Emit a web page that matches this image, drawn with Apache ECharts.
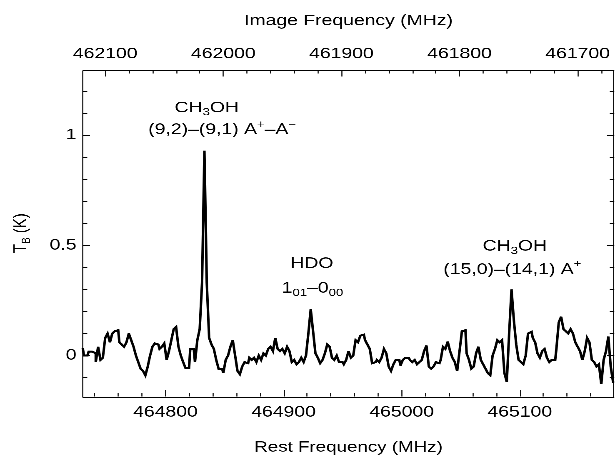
<!DOCTYPE html>
<html>
<head>
<meta charset="utf-8">
<script src="https://cdn.jsdelivr.net/npm/echarts@6/dist/echarts.min.js"></script>
<style>
  html, body { margin: 0; padding: 0; background: #fff; overflow: hidden; }
  #wrap { width: 615px; height: 460px; overflow: hidden; }
  /* the plot is laid out narrower and widened, giving the broad lettering */
  #chart { width: 492px; height: 460px; transform: scaleX(1.25); transform-origin: 0 0; }
</style>
</head>
<body>
<div id="wrap"><div id="chart"></div></div>
<script>
// Spectrum channels: first channel centre and spacing (MHz, rest frame)
const channelStart = 464730;
const channelWidth = 2;

// Brightness temperature per channel (K)
const tb = [
  0.033, 0.0, 0.0, 0.018, 0.018, 0.01, -0.03, 0.04, -0.02, -0.01,
  0.08, 0.1, 0.06, 0.1, 0.11, 0.115, 0.06, 0.05, 0.04, 0.06,
  0.1, 0.07, 0.04, 0.0, -0.03, -0.06, -0.07, -0.09, -0.05, 0.0,
  0.04, 0.055, 0.05, 0.03, 0.04, 0.055, -0.02, 0.02, 0.07, 0.12,
  0.13, 0.04, 0.0, -0.03, -0.057, -0.057, 0.03, 0.03, -0.03, 0.07,
  0.12, 0.33, 0.93, 0.33, 0.08, 0.05, 0.03, -0.02, -0.06, -0.06,
  -0.08, -0.02, 0.0, 0.04, 0.07, 0.0, -0.07, -0.085, -0.05, -0.03,
  -0.035, -0.01, -0.02, -0.01, -0.03, 0.0, -0.02, 0.01, 0.0, 0.03,
  0.04, 0.02, 0.08, 0.03, 0.02, 0.03, 0.01, 0.04, 0.02, -0.03,
  -0.02, -0.04, -0.03, -0.01, -0.03, 0.0, 0.1, 0.21, 0.11, 0.01,
  -0.01, -0.035, -0.02, 0.01, 0.05, 0.04, -0.01, -0.02, 0.0, -0.03,
  -0.03, -0.04, -0.02, 0.02, -0.01, 0.0, 0.07, 0.06, 0.09, 0.095,
  0.07, 0.05, 0.03, -0.035, -0.03, -0.02, -0.03, -0.01, 0.03, 0.01,
  -0.05, -0.07, -0.04, -0.02, -0.02, -0.045, -0.02, -0.01, -0.01, -0.02,
  -0.03, -0.02, -0.04, -0.03, -0.02, 0.02, 0.045, -0.05, -0.06, -0.05,
  -0.03, -0.035, -0.02, 0.04, 0.03, 0.063, 0.02, -0.01, -0.03, -0.07,
  0.02, 0.11, 0.115, 0.01, -0.02, -0.06, -0.05, 0.01, 0.04, -0.02,
  -0.04, -0.06, -0.08, -0.09, 0.0, 0.03, 0.07, 0.06, 0.07, -0.08,
  -0.12, 0.1, 0.30, 0.16, 0.05, -0.02, -0.03, -0.04, 0.0, 0.1,
  0.108, 0.08, 0.06, 0.01, -0.01, 0.02, 0.03, -0.01, -0.03, -0.02,
  -0.02, 0.03, 0.15, 0.176, 0.12, 0.11, 0.1, 0.12, 0.1, 0.06,
  0.04, 0.02, -0.02, 0.02, 0.08, 0.06, -0.02, -0.03, -0.05, -0.04,
  -0.13, -0.02, 0.02, 0.086, -0.05, -0.12
];

// Axis extents
const restRange = [464730, 465180];   // MHz
const imageSum = 926849;              // image frequency = imageSum - rest frequency
const tbRange = [-0.186, 1.296];      // K

// Tick positions
const restMajor = [464800, 464900, 465000, 465100];
const restMinor = [464740, 464760, 464780, 464820, 464840, 464860, 464880, 464920, 464940,
  464960, 464980, 465020, 465040, 465060, 465080, 465120, 465140, 465160];
const imageMajor = [461700, 461800, 461900, 462000, 462100];
const imageMinor = [461680, 461720, 461740, 461760, 461780, 461820, 461840, 461860, 461880,
  461920, 461940, 461960, 461980, 462020, 462040, 462060, 462080];
const tbMajor = [0, 0.5, 1];
const tbMinor = [-0.1, 0.1, 0.2, 0.3, 0.4, 0.6, 0.7, 0.8, 0.9, 1.1, 1.2];

// Line identifications: anchor [rest MHz, K] and rich text
const lineLabels = [
  { at: [464835, 1.124], text: '{n|CH}{sb|3}{n|OH}' },
  { at: [464848, 1.025], text: '{n|(9,2)–(9,1) A}{sp|+}{n|–A}{sp|−}' },
  { at: [464924, 0.417], text: '{n|HDO}' },
  { at: [464924.5, 0.305], text: '{n|1}{sb|01}{n|–0}{sb|00}' },
  { at: [465095.8, 0.495], text: '{n|CH}{sb|3}{n|OH}' },
  { at: [465093.7, 0.39], text: '{n|(15,0)–(14,1) A}{sp|+}' }
];

const FONT = '"Liberation Sans", Arial, Helvetica, sans-serif';
const numLabel = v => String(v);

const spectrum = tb.map((t, i) => [channelStart + i * channelWidth, t]);

const chart = echarts.init(document.getElementById('chart'), null, { renderer: 'canvas', devicePixelRatio: 3 });

const noLine = { show: false, onZero: false };
const hidden = { show: false };

function axis(opts) {
  return Object.assign({
    type: 'value', splitLine: hidden, axisPointer: hidden, axisLine: noLine
  }, opts);
}
function ticks(values, length, width) {
  return { inside: true, length: length, customValues: values, lineStyle: { color: '#000', width: width } };
}
function labels(values, margin) {
  return { customValues: values, formatter: numLabel, margin: margin, fontFamily: FONT, fontSize: 15.5, color: '#000' };
}

chart.setOption({
  animation: false,
  backgroundColor: '#fff',
  grid: { left: 66.2, right: 0.6, top: 70, bottom: 63, containLabel: false },
  xAxis: [
    axis({
      position: 'bottom', min: restRange[0], max: restRange[1],
      name: 'Rest Frequency (MHz)', nameLocation: 'middle', nameGap: 43.5,
      nameTextStyle: { fontFamily: FONT, fontSize: 15, color: '#000' },
      axisTick: ticks(restMajor, 6.5, 0.85), axisLabel: labels(restMajor, 8)
    }),
    axis({
      position: 'bottom', min: restRange[0], max: restRange[1],
      axisLabel: hidden, axisTick: ticks(restMinor, 3.5, 0.85)
    }),
    axis({
      position: 'top', inverse: true,
      min: imageSum - restRange[1], max: imageSum - restRange[0],
      name: 'Image Frequency (MHz)', nameLocation: 'middle', nameGap: 41,
      nameTextStyle: { fontFamily: FONT, fontSize: 15.5, color: '#000' },
      axisTick: ticks(imageMajor, 6.5, 0.85), axisLabel: labels(imageMajor, 8)
    }),
    axis({
      position: 'top', inverse: true,
      min: imageSum - restRange[1], max: imageSum - restRange[0],
      axisLabel: hidden, axisTick: ticks(imageMinor, 3.5, 0.85)
    })
  ],
  yAxis: [
    axis({
      position: 'left', min: tbRange[0], max: tbRange[1],
      name: '{a|T}{b|B}{a| (K)}', nameLocation: 'middle', nameGap: 38.5, nameRotate: 90,
      nameTextStyle: {
        fontFamily: FONT, color: '#000',
        rich: {
          a: { fontFamily: FONT, fontSize: 15, lineHeight: 22, color: '#000' },
          b: { fontFamily: FONT, fontSize: 10, height: 12.6, verticalAlign: 'bottom', color: '#000' }
        }
      },
      axisTick: ticks(tbMajor, 5.8, 1), axisLabel: labels(tbMajor, 5)
    }),
    axis({
      position: 'left', min: tbRange[0], max: tbRange[1],
      axisLabel: hidden, axisTick: ticks(tbMinor, 3.6, 1)
    }),
    axis({
      position: 'right', min: tbRange[0], max: tbRange[1],
      axisLabel: hidden, axisTick: ticks(tbMajor, 5.8, 1)
    }),
    axis({
      position: 'right', min: tbRange[0], max: tbRange[1],
      axisLabel: hidden, axisTick: ticks(tbMinor, 3.6, 1)
    })
  ],
  series: [{
    type: 'line',
    xAxisIndex: 0, yAxisIndex: 0,
    data: spectrum,
    step: 'middle',
    showSymbol: false,
    symbol: 'none',
    clip: true,
    silent: true,
    lineStyle: { color: '#000', width: 2, join: 'miter', miterLimit: 4 }
  }]
});

// Plot frame edges from the axis extents, and the line identifications at their data anchors
const toPx = v => chart.convertToPixel({ xAxisIndex: 0, yAxisIndex: 0 }, v);
const tl = toPx([restRange[0], tbRange[1]]);
const br = toPx([restRange[1], tbRange[0]]);
const yTop = Math.round(tl[1]) + 0.5;
const yBottom = Math.round(br[1]) + 0.5;
const richStyles = {
  n: { fontFamily: FONT, fontSize: 15.5, lineHeight: 22, fill: '#000' },
  sb: { fontFamily: FONT, fontSize: 10.5, height: 12.6, verticalAlign: 'bottom', fill: '#000' },
  sp: { fontFamily: FONT, fontSize: 10.5, height: 12, verticalAlign: 'top', fill: '#000' }
};
function edge(x1, y1, x2, y2, width) {
  return { type: 'line', silent: true, z: 100, shape: { x1: x1, y1: y1, x2: x2, y2: y2 },
    style: { stroke: '#000', lineWidth: width } };
}
chart.setOption({
  graphic: [
    edge(tl[0], yTop, br[0], yTop, 1),
    edge(tl[0], yBottom, br[0], yBottom, 1),
    edge(tl[0], yTop, tl[0], yBottom, 0.85),
    edge(br[0] - 0.5, yTop, br[0] - 0.5, yBottom, 0.85)
  ].concat(lineLabels.map(l => {
    const p = toPx(l.at);
    return {
      type: 'text', x: p[0], y: p[1], silent: true,
      style: { text: l.text, rich: richStyles, align: 'center', verticalAlign: 'middle', fill: '#000', fontFamily: FONT, fontSize: 15.5 }
    };
  }))
});
</script>
</body>
</html>
